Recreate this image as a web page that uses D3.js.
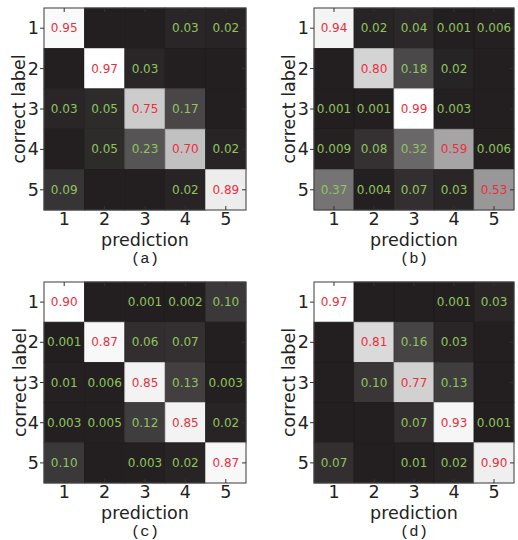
<!DOCTYPE html>
<html>
<head>
<meta charset="utf-8">
<script src="https://cdn.jsdelivr.net/npm/d3@7"></script>
<style>
  html, body { margin: 0; padding: 0; background: #fff; }
  svg { display: block; }
</style>
</head>
<body>
<svg id="chart" width="518" height="540"></svg>
<script>
// ---- data ----
const labels = [1, 2, 3, 4, 5];
const captions = ["(a)", "(b)", "(c)", "(d)"];
const matrixA = [
  [0.95, 0, 0, 0.03, 0.02],
  [0, 0.97, 0.03, 0, 0],
  [0.03, 0.05, 0.75, 0.17, 0],
  [0, 0.05, 0.23, 0.70, 0.02],
  [0.09, 0, 0, 0.02, 0.89]
];
const matrixB = [
  [0.94, 0.02, 0.04, 0.001, 0.006],
  [0, 0.80, 0.18, 0.02, 0],
  [0.001, 0.001, 0.99, 0.003, 0],
  [0.009, 0.08, 0.32, 0.59, 0.006],
  [0.37, 0.004, 0.07, 0.03, 0.53]
];
const matrixC = [
  [0.90, 0, 0.001, 0.002, 0.10],
  [0.001, 0.87, 0.06, 0.07, 0],
  [0.01, 0.006, 0.85, 0.13, 0.003],
  [0.003, 0.005, 0.12, 0.85, 0.02],
  [0.10, 0, 0.003, 0.02, 0.87]
];
const matrixD = [
  [0.97, 0, 0, 0.001, 0.03],
  [0, 0.81, 0.16, 0.03, 0],
  [0, 0.10, 0.77, 0.13, 0],
  [0, 0, 0.07, 0.93, 0.001],
  [0.07, 0, 0.01, 0.02, 0.90]
];
const matrices = [matrixA, matrixB, matrixC, matrixD];
const xTitle = "prediction";
const yTitle = "correct label";

// ---- layout ----
const panels = [
  { x: 44,  y: 8,   w: 202, h: 202, ylab: 19 },
  { x: 314, y: 8,   w: 200, h: 202, ylab: 289 },
  { x: 44,  y: 282, w: 202, h: 201, ylab: 20 },
  { x: 314, y: 282, w: 200, h: 201, ylab: 289 }
];

const svg = d3.select("#chart");
const font = "'DejaVu Sans', sans-serif";
const fmt = v => v < 0.01 ? v.toFixed(3) : v.toFixed(2);

panels.forEach((p, i) => {
  const m = matrices[i];
  const maxV = d3.max(m.flat());
  const color = d3.scaleLinear().domain([0, maxV]).range(["#231f20", "#ffffff"]).clamp(true);
  const x = d3.scaleBand().domain(labels).range([p.x, p.x + p.w]);
  const y = d3.scaleBand().domain(labels).range([p.y, p.y + p.h]);
  const g = svg.append("g");

  const cells = [];
  m.forEach((row, r) => row.forEach((v, c) => cells.push({ r: labels[r], c: labels[c], v, diag: r === c })));

  g.selectAll("rect.cell").data(cells).join("rect")
    .attr("class", "cell")
    .attr("x", d => x(d.c)).attr("y", d => y(d.r))
    .attr("width", x.bandwidth()).attr("height", y.bandwidth())
    .attr("fill", d => color(d.v))
    .attr("stroke", d => d3.color(color(d.v)).darker(0.5))
    .attr("stroke-width", 0.8);

  g.selectAll("text.val").data(cells.filter(d => d.v > 0)).join("text")
    .attr("class", "val")
    .attr("x", d => x(d.c) + x.bandwidth() / 2)
    .attr("y", d => y(d.r) + y.bandwidth() / 2)
    .attr("text-anchor", "middle")
    .attr("dominant-baseline", "central")
    .attr("font-family", font)
    .attr("font-size", 12)
    .attr("fill", d => d.diag ? "#e8303e" : "#8fc55e")
    .text(d => fmt(d.v));

  // frame
  g.append("rect")
    .attr("x", p.x).attr("y", p.y).attr("width", p.w).attr("height", p.h)
    .attr("fill", "none").attr("stroke", "#4a4a4a").attr("stroke-width", 1);

  // ticks
  const tk = 4;
  labels.forEach(l => {
    const cx = x(l) + x.bandwidth() / 2;
    const cy = y(l) + y.bandwidth() / 2;
    g.append("line").attr("x1", p.x - tk).attr("x2", p.x).attr("y1", cy).attr("y2", cy).attr("stroke", "#333");
    g.append("line").attr("x1", p.x + p.w - tk).attr("x2", p.x + p.w).attr("y1", cy).attr("y2", cy).attr("stroke", "#333");
    g.append("line").attr("x1", cx).attr("x2", cx).attr("y1", p.y).attr("y2", p.y + tk).attr("stroke", "#333");
    g.append("line").attr("x1", cx).attr("x2", cx).attr("y1", p.y + p.h - tk).attr("y2", p.y + p.h).attr("stroke", "#333");
    g.append("text").attr("x", p.x - 5).attr("y", cy).attr("text-anchor", "end")
      .attr("dominant-baseline", "central").attr("font-family", font).attr("font-size", 17.5)
      .attr("fill", "#222").text(l);
    g.append("text").attr("x", cx).attr("y", p.y + p.h + 15).attr("text-anchor", "middle")
      .attr("font-family", font).attr("font-size", 17.5).attr("fill", "#222").text(l);
  });

  g.append("text").attr("x", p.x + p.w / 2).attr("y", p.y + p.h + 36)
    .attr("text-anchor", "middle").attr("font-family", font).attr("font-size", 17.5)
    .attr("fill", "#222").text(xTitle);
  g.append("text")
    .attr("transform", `translate(${p.ylab},${p.y + p.h / 2}) rotate(-90)`)
    .attr("text-anchor", "middle").attr("dominant-baseline", "central")
    .attr("font-family", font).attr("font-size", 17.5)
    .attr("fill", "#222").text(yTitle);
  g.append("text").attr("x", p.x + p.w / 2).attr("y", p.y + p.h + 53)
    .attr("text-anchor", "middle").attr("font-family", "'Liberation Mono', monospace").attr("font-size", 15.5)
    .attr("fill", "#222").text(captions[i]);
});
</script>
</body>
</html>
